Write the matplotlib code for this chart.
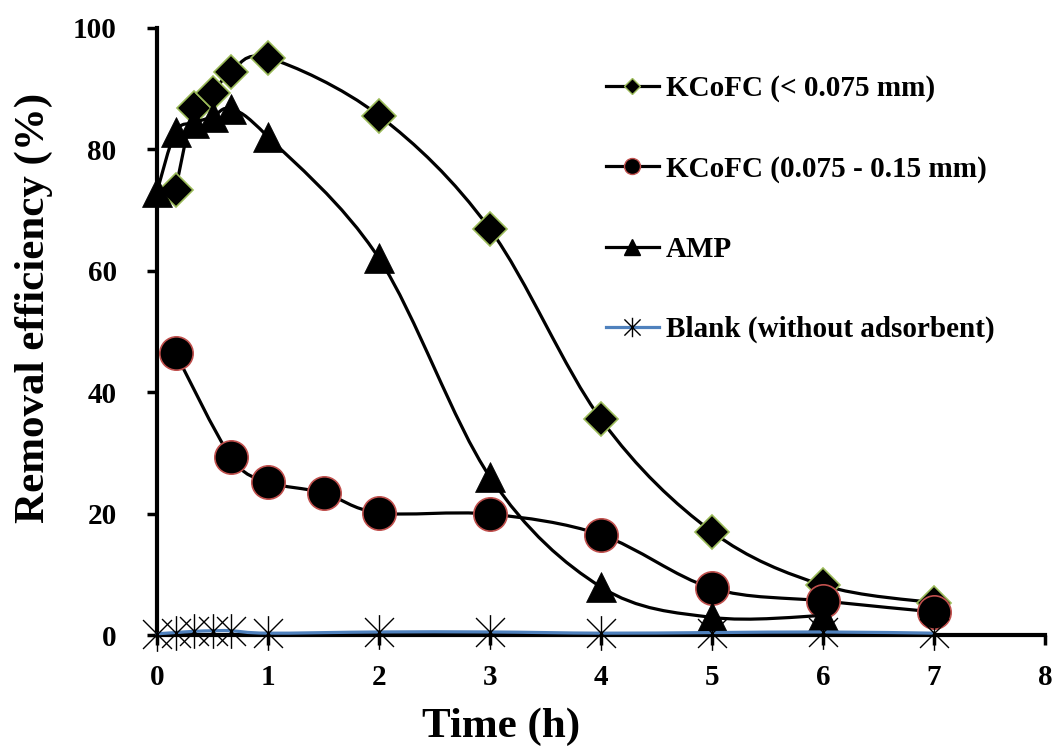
import matplotlib.pyplot as plt
from matplotlib.path import Path
from matplotlib.patches import PathPatch
from matplotlib.lines import Line2D
import numpy as np

plt.rcParams['font.family'] = ['Liberation Serif', 'DejaVu Serif']
plt.rcParams['font.weight'] = 'bold'

# data
t_fine = [0.167, 0.333, 0.5, 0.667, 1, 2, 3, 4, 5, 6, 7]
eff_fine = [73.3, 86.7, 89.2, 92.7, 95.0, 85.5, 66.8, 35.5, 17.0, 8.2, 5.3]

t_coarse = [0.167, 0.667, 1, 1.5, 2, 3, 4, 5, 6, 7]
eff_coarse = [46.4, 29.3, 25.2, 23.4, 20.1, 19.9, 16.5, 7.7, 5.6, 3.8]

t_amp = [0, 0.167, 0.333, 0.5, 0.667, 1, 2, 3, 4, 5, 6]
eff_amp = [73.0, 82.8, 84.3, 85.3, 86.6, 82.0, 62.0, 26.0, 7.9, 2.9, 3.2]

t_blank = [0, 0.167, 0.333, 0.5, 0.667, 1, 2, 3, 4, 5, 6, 7]
eff_blank = [0.2, 0.4, 0.6, 0.7, 0.7, 0.3, 0.5, 0.5, 0.3, 0.4, 0.5, 0.3]

labels = ['KCoFC (< 0.075 mm)', 'KCoFC (0.075 - 0.15 mm)', 'AMP',
          'Blank (without adsorbent)']


def smooth_path(x, y):
    # Excel-like smoothed line: cubic Bezier through the points
    pts = np.column_stack([x, y]).astype(float)
    n = len(pts)
    verts = [pts[0]]
    codes = [Path.MOVETO]
    for i in range(n - 1):
        p_prev = pts[i - 1] if i > 0 else pts[i]
        p_next2 = pts[i + 2] if i + 2 < n else pts[i + 1]
        c1 = pts[i] + (pts[i + 1] - p_prev) / 6
        c2 = pts[i + 1] - (p_next2 - pts[i]) / 6
        verts += [c1, c2, pts[i + 1]]
        codes += [Path.CURVE4] * 3
    return Path(verts, codes)


# asterisk marker (X plus vertical bar)
star = Path([(-1, -1), (1, 1), (-1, 1), (1, -1), (0, -1.2), (0, 1.2)],
            [Path.MOVETO, Path.LINETO, Path.MOVETO, Path.LINETO,
             Path.MOVETO, Path.LINETO])

fig = plt.figure(figsize=(10.57, 7.51), dpi=100)
ax = fig.add_axes([157 / 1057, 116 / 751, 888 / 1057, 607.5 / 751])

series = [
    (t_fine, eff_fine, 'black', dict(marker='D', ms=17.5, mfc='black', mec='#9BBB59', mew=1.2)),
    (t_coarse, eff_coarse, 'black', dict(marker='o', ms=24, mfc='black', mec='#C0504D', mew=1.2)),
    (t_amp, eff_amp, 'black', dict(marker='^', ms=22, mfc='black', mec='black', mew=0.5)),
    (t_blank, eff_blank, '#4F81BD', dict(marker=star, ms=25, mfc='none', mec='black', mew=1.0)),
]

z = 3
for x, y, lc, mk in series:
    patch = PathPatch(smooth_path(x, y), facecolor='none', edgecolor=lc,
                      lw=2.3, zorder=z, clip_on=False, capstyle='round')
    ax.add_patch(patch)
    ax.plot(x, y, linestyle='none', zorder=z + 0.5, clip_on=False, **mk)
    z += 1

ax.set_xlim(0, 8)
ax.set_ylim(0, 100)
ax.set_xticks(range(0, 9))
ax.set_yticks(range(0, 101, 20))

for s in ['top', 'right']:
    ax.spines[s].set_visible(False)
for s in ['left', 'bottom']:
    ax.spines[s].set_linewidth(3)
    ax.spines[s].set_zorder(2)

ax.tick_params(axis='both', direction='out', length=7, width=2.5,
               labelsize=21)
ax.tick_params(axis='y', pad=22)
ax.tick_params(axis='x', pad=14)
for lab in ax.get_xticklabels() + ax.get_yticklabels():
    lab.set_fontweight('bold')

ax.set_xlabel('Time (h)', fontsize=31, fontweight='bold')
ax.set_ylabel('Removal efficiency (%)', fontsize=31, fontweight='bold')
ax.xaxis.set_label_coords(0.388, -0.12)
ax.yaxis.set_label_coords(-0.117, 0.538)

# legend handles with smaller markers
handles = [
    Line2D([], [], color='black', lw=2.3, marker='D', ms=8.5, mfc='black', mec='#9BBB59', mew=1),
    Line2D([], [], color='black', lw=2.3, marker='o', ms=11.5, mfc='black', mec='#C0504D', mew=1),
    Line2D([], [], color='black', lw=2.3, marker='^', ms=12, mfc='black', mec='black'),
    Line2D([], [], color='#4F81BD', lw=2.3, marker=star, ms=14, mfc='none', mec='black', mew=1),
]
fig.legend(handles, labels, loc='upper left', bbox_to_anchor=(606 / 1057, 1 - 75 / 751),
           frameon=False, prop={'weight': 'bold', 'size': 21},
           handlelength=1.8, handletextpad=0.25, labelspacing=1.82,
           borderpad=0, borderaxespad=0)

fig.savefig('out.png', dpi=100)
